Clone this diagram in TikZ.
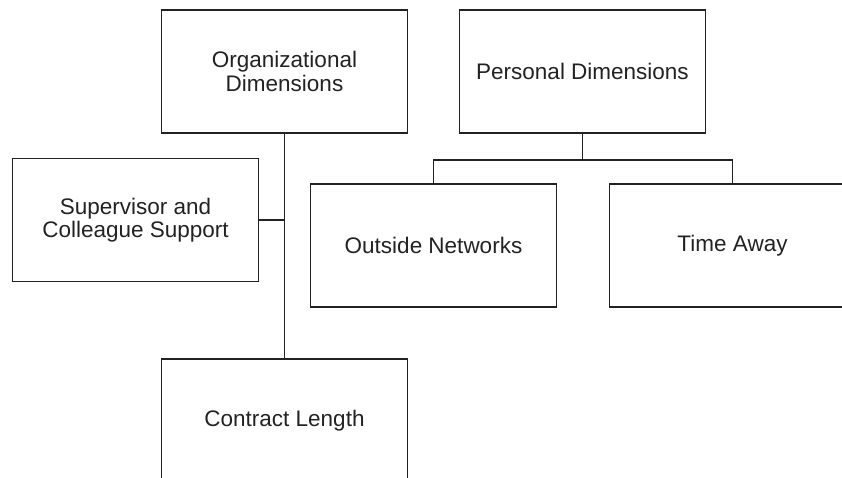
\documentclass[tikz,border=0pt]{standalone}
\usepackage{fontspec}
\setmainfont{Liberation Sans}
\definecolor{ink}{HTML}{222222}
\begin{document}
\begin{tikzpicture}[x=1pt,y=-1pt,
  box/.style={draw=ink,line width=1.8pt,minimum width=246pt,minimum height=123pt,
    inner sep=0pt,align=center,text=ink,font=\fontsize{22.5}{23.5}\selectfont},
  link/.style={draw=ink,line width=1.8pt}]
\useasboundingbox (0,0) rectangle (842,478);
\clip (0,0) rectangle (842,478);
\node[box] (org) at (284.5,71.5) {Organizational\\Dimensions};
\node[box] (per) at (582.5,71.5) {Personal Dimensions};
\node[box] (sup) at (135.5,220) {Supervisor and\\Colleague Support};
\node[box] (out) at (433.5,245.5) {Outside Networks};
\node[box] (tim) at (732.5,245.5) {Time Away};
\node[box] (con) at (284.5,420.5) {Contract Length};
\draw[link] (org.south) -- (con.north);
\draw[link] (sup.east) -- (org.south |- sup.east);
\draw[link] (per.south) -- ++(0,26) coordinate (pj);
\draw[link] (out.north) |- (pj) -| (tim.north);
\end{tikzpicture}
\end{document}
